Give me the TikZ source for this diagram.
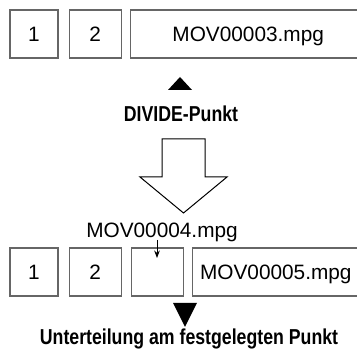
\documentclass[tikz,border=0pt]{standalone}
\usepackage{fontspec}
\setmainfont{Liberation Sans}
\newfontfamily\condfont{Liberation Sans}[FakeStretch=0.82]
\usetikzlibrary{arrows.meta, positioning}

\tikzset{
    cell/.style={draw=black!60, line width=1.1pt, minimum height=48pt,
        inner sep=0pt, text height=14.8pt, text depth=0pt,
        font=\fontsize{20.8}{25}\selectfont},
    fname/.style={font=\fontsize{20.8}{25}\selectfont, inner sep=0pt, anchor=base},
    caption/.style={font=\condfont\bfseries\fontsize{21.6}{26}\selectfont,
        inner sep=0pt, anchor=base},
    marker/.style={fill=black}
}

\begin{document}
\begin{tikzpicture}[x=1pt, y=-1pt, >=Stealth, thick]
    \useasboundingbox (0,0) rectangle (357,350);

    % -------------------------------------------------------------
    % before: one file, divide point marked
    % -------------------------------------------------------------
    \node[cell, minimum width=48pt] (A1) at (34,34) {1};
    \node[cell, minimum width=52pt, right=10pt of A1] (A2) {2};
    \node[cell, minimum width=236pt, right=8pt of A2] (A3) {MOV00003.mpg};

    \fill[marker] (180,77) -- (192,90) -- (168,90) -- cycle;
    \node[caption] (divide) at (181,122) {DIVIDE-Punkt};

    % big arrow
    \draw[line width=1pt, fill=white] (162,139) -- (205,139) -- (205,177)
        -- (227,177) -- (183.5,213) -- (140,177) -- (162,177) -- cycle;

    % -------------------------------------------------------------
    % after: split into two files
    % -------------------------------------------------------------
    \node[cell, minimum width=48pt] (B1) at (34,272) {1};
    \node[cell, minimum width=52pt, right=10pt of B1] (B2) {2};
    \node[cell, minimum width=52pt, right=9pt of B2] (B3) {};
    \node[cell, minimum width=167pt, right=8pt of B3] (B4) {MOV00005.mpg};

    \node[fname] (new) at (162,238) {MOV00004.mpg};
    \coordinate (newfoot) at (157,240);
    \draw[->, line width=1pt] (newfoot) -- (newfoot |- 0,258);

    \fill[marker] (173,303) -- (197,303) -- (185,327) -- cycle;
    \node[caption] (split) at (189,345) {Unterteilung am festgelegten Punkt};

\end{tikzpicture}
\end{document}
